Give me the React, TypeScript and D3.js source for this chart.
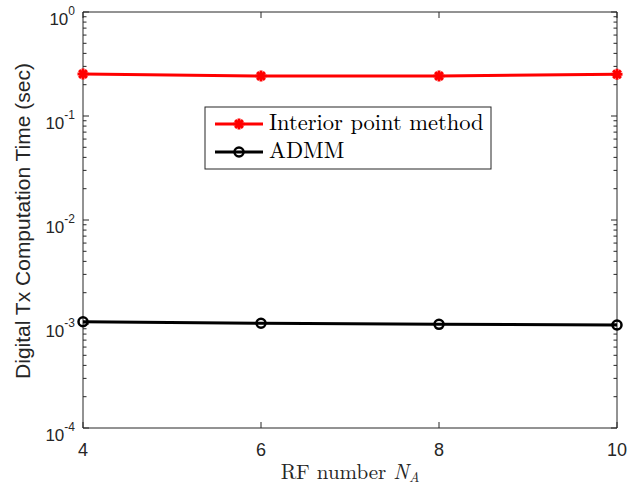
import React from "react";
import * as d3 from "d3";

const rfNumbers = [4, 6, 8, 10];
const interiorPoint = [0.2535, 0.2425, 0.2425, 0.252];
const admm = [1.052e-3, 1.016e-3, 0.993e-3, 0.977e-3];
const xTicks = [4, 6, 8, 10];
const yTickExps = [0, -1, -2, -3, -4];

const W = 642, H = 487;
const L = 83, R = 617, T = 12, B = 428;

export default function App() {
  const x = d3.scaleLinear().domain([4, 10]).range([L, R]);
  const y = d3.scaleLog().domain([1e-4, 1]).range([B, T]);
  const line = d3.line<[number, number]>().x(d => x(d[0])).y(d => y(d[1]));
  const redPts: [number, number][] = rfNumbers.map((v, i) => [v, interiorPoint[i]]);
  const blkPts: [number, number][] = rfNumbers.map((v, i) => [v, admm[i]]);

  const minor: number[] = [];
  for (let e = -4; e < 0; e++) for (let k = 2; k <= 9; k++) minor.push(k * Math.pow(10, e));

  const star = (cx: number, cy: number, key: string) => {
    const r = 5.5;
    const segs = [0, 45, 90, 135].map(a => {
      const rad = (a * Math.PI) / 180;
      return (
        <line key={a} x1={cx - r * Math.cos(rad)} y1={cy - r * Math.sin(rad)}
          x2={cx + r * Math.cos(rad)} y2={cy + r * Math.sin(rad)}
          stroke="#ff0000" strokeWidth={3} />
      );
    });
    return <g key={key}>{segs}<circle cx={cx} cy={cy} r={3.5} fill="#ff0000" /></g>;
  };

  const sans = "Helvetica, Arial, 'Liberation Sans', sans-serif";
  const serif = "'Latin Modern Roman', 'Computer Modern', 'DejaVu Serif', 'Liberation Serif', serif";
  const cx = (L + R) / 2;

  return (
    <svg width={W} height={H} style={{ position: "absolute", left: 0, top: 0, background: "#fff" }}>
      <rect x={0} y={0} width={W} height={H} fill="#fff" />
      <line x1={L} y1={T} x2={R} y2={T} stroke="#262626" strokeWidth={1} />
      <line x1={R} y1={T} x2={R} y2={B} stroke="#262626" strokeWidth={1} />
      <line x1={L} y1={B} x2={R} y2={B} stroke="#262626" strokeWidth={1} />
      <line x1={L} y1={T} x2={L} y2={B} stroke="#262626" strokeWidth={1} />
      {yTickExps.map(e => (
        <g key={e}>
          <line x1={L} x2={L + 6} y1={y(Math.pow(10, e))} y2={y(Math.pow(10, e))} stroke="#262626" />
          <line x1={R} x2={R - 6} y1={y(Math.pow(10, e))} y2={y(Math.pow(10, e))} stroke="#262626" />
          <text x={L - 8} y={y(Math.pow(10, e)) + 13} textAnchor="end" fontFamily={sans} fontSize={17} fill="#262626">
            10<tspan dy={-10} fontSize={12}>{e}</tspan>
          </text>
        </g>
      ))}
      {minor.map((v, i) => (
        <g key={i}>
          <line x1={L} x2={L + 3.5} y1={y(v)} y2={y(v)} stroke="#262626" />
          <line x1={R} x2={R - 3.5} y1={y(v)} y2={y(v)} stroke="#262626" />
        </g>
      ))}
      {xTicks.map(t => (
        <g key={t}>
          <line x1={x(t)} x2={x(t)} y1={B} y2={B - 6} stroke="#262626" />
          <line x1={x(t)} x2={x(t)} y1={T} y2={T + 6} stroke="#262626" />
          <text x={x(t)} y={B + 28} textAnchor="middle" fontFamily={sans} fontSize={18} fill="#262626">{t}</text>
        </g>
      ))}
      <text x={cx} y={479} textAnchor="middle" fontFamily={serif} fontSize={21} fill="#262626">
        RF number <tspan fontStyle="italic">N</tspan><tspan fontStyle="italic" fontSize={14} dy={3}>A</tspan>
      </text>
      <text transform={`translate(30, ${(T + B) / 2 + 1}) rotate(-90)`} textAnchor="middle" fontFamily={sans} fontSize={21} fill="#262626">
        Digital Tx Computation Time (sec)
      </text>
      <path d={line(redPts) || ""} fill="none" stroke="#ff0000" strokeWidth={3} />
      {redPts.map((p, i) => star(x(p[0]), y(p[1]), "r" + i))}
      <path d={line(blkPts) || ""} fill="none" stroke="#000" strokeWidth={3} />
      {blkPts.map((p, i) => (
        <circle key={i} cx={x(p[0])} cy={y(p[1])} r={4.5} fill="none" stroke="#000" strokeWidth={2.5} />
      ))}
      <rect x={205} y={107} width={286} height={62} fill="#fff" stroke="#262626" strokeWidth={1} />
      <line x1={215} x2={263} y1={124} y2={124} stroke="#ff0000" strokeWidth={3} />
      {star(239, 124, "lg")}
      <text x={269} y={130} fontFamily={serif} fontSize={22.5} fill="#000">Interior point method</text>
      <line x1={215} x2={263} y1={152} y2={152} stroke="#000" strokeWidth={3} />
      <circle cx={239} cy={152} r={4.5} fill="none" stroke="#000" strokeWidth={2.5} />
      <text x={269} y={158} fontFamily={serif} fontSize={22.5} fill="#000">ADMM</text>
    </svg>
  );
}
